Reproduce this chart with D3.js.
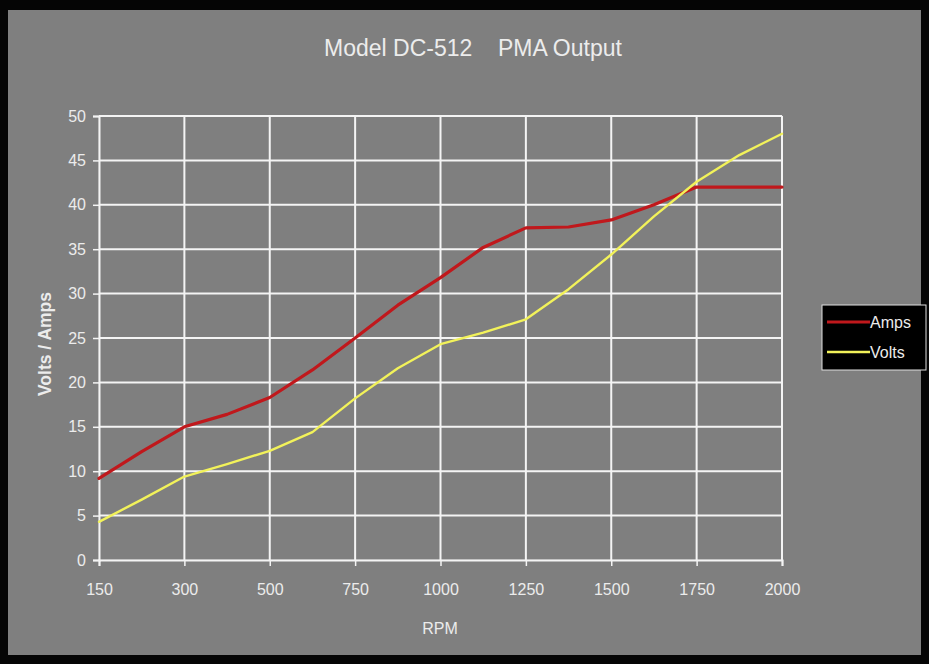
<!DOCTYPE html>
<html>
<head>
<meta charset="utf-8">
<script src="https://cdn.jsdelivr.net/npm/d3@7"></script>
<style>
  html, body { margin: 0; padding: 0; background: #000; }
  svg { display: block; }
  text { font-family: "Liberation Sans", Arial, sans-serif; fill: #ececec; }
</style>
</head>
<body>
<svg id="chart" width="929" height="664"></svg>
<script>
// RPM categories (every second one carries a tick label)
const rpm = ["150", "225", "300", "400", "500", "625", "750", "875", "1000",
             "1125", "1250", "1375", "1500", "1625", "1750", "1875", "2000"];
const tickLabels = ["150", "300", "500", "750", "1000", "1250", "1500", "1750", "2000"];
const amps  = [9.2, 12.2, 15.0, 16.4, 18.3, 21.4, 25.0, 28.7, 31.8, 35.2, 37.4, 37.5, 38.3, 40.0, 42.0, 42.0, 42.0];
const volts = [4.3, 6.8, 9.4, 10.8, 12.3, 14.4, 18.2, 21.6, 24.3, 25.6, 27.1, 30.5, 34.4, 38.7, 42.6, 45.6, 48.0];
const yTicks = [0, 5, 10, 15, 20, 25, 30, 35, 40, 45, 50];

const series = [
  { name: "Amps",  values: amps,  color: "#c0181c", width: 3.2 },
  { name: "Volts", values: volts, color: "#f2f25a", width: 2.4 }
];

const svg = d3.select("#chart");
const W = 929, H = 664;
const plot = { left: 99, right: 782, top: 116, bottom: 560 };

// outer frame and chart background
svg.append("rect").attr("width", W).attr("height", H).attr("fill", "#050505");
svg.append("rect").attr("x", 8).attr("y", 10).attr("width", 913).attr("height", 645)
  .attr("fill", "#7f7f7f");

const x = d3.scalePoint().domain(rpm).range([plot.left, plot.right]);
const y = d3.scaleLinear().domain([0, 50]).range([plot.bottom, plot.top]);

// plot area border
svg.append("rect")
  .attr("x", plot.left).attr("y", plot.top)
  .attr("width", plot.right - plot.left).attr("height", plot.bottom - plot.top)
  .attr("fill", "#7f7f7f").attr("stroke", "#a8a8a8").attr("stroke-width", 1);

// horizontal gridlines
svg.append("g").selectAll("line").data(yTicks.filter(d => d > 0)).join("line")
  .attr("x1", plot.left).attr("x2", plot.right)
  .attr("y1", d => y(d)).attr("y2", d => y(d))
  .attr("stroke", "#f4f4f4").attr("stroke-width", 2);

// vertical gridlines
svg.append("g").selectAll("line").data(tickLabels.slice(1)).join("line")
  .attr("x1", d => x(d)).attr("x2", d => x(d))
  .attr("y1", plot.top).attr("y2", plot.bottom)
  .attr("stroke", "#f4f4f4").attr("stroke-width", 2);

// y axis
const yAxis = svg.append("g")
  .attr("transform", `translate(${plot.left},0)`)
  .call(d3.axisLeft(y).tickValues(yTicks).tickSize(6).tickPadding(7));
// x axis
const xAxis = svg.append("g")
  .attr("transform", `translate(0,${plot.bottom})`)
  .call(d3.axisBottom(x).tickValues(tickLabels).tickSize(6).tickPadding(18));

[yAxis, xAxis].forEach(g => {
  g.select(".domain").attr("stroke", "#f4f4f4").attr("stroke-width", 2);
  g.selectAll(".tick line").attr("stroke", "#f4f4f4").attr("stroke-width", 1.5);
  g.selectAll(".tick text").attr("fill", "#ececec")
    .style("font-family", "'Liberation Sans', Arial, sans-serif")
    .style("font-size", "16px");
});

// series lines
const line = d3.line()
  .x((d, i) => x(rpm[i]))
  .y(d => y(d));

svg.append("g").selectAll("path").data(series).join("path")
  .attr("d", d => line(d.values))
  .attr("fill", "none")
  .attr("stroke", d => d.color)
  .attr("stroke-width", d => d.width)
  .attr("stroke-linejoin", "round")
  .attr("stroke-linecap", "round");

// titles
svg.append("text")
  .attr("x", 473).attr("y", 56)
  .attr("text-anchor", "middle")
  .style("font-size", "23px")
  .style("white-space", "pre")
  .text("Model DC-512    PMA Output");

svg.append("text")
  .attr("x", 440).attr("y", 634)
  .attr("text-anchor", "middle")
  .style("font-size", "16px")
  .text("RPM");

svg.append("text")
  .attr("transform", "translate(51,344) rotate(-90)")
  .attr("text-anchor", "middle")
  .style("font-size", "17.5px")
  .style("font-weight", "bold")
  .text("Volts / Amps");

// legend
const legend = svg.append("g").attr("transform", "translate(822,305)");
legend.append("rect")
  .attr("width", 104).attr("height", 65)
  .attr("fill", "#000").attr("stroke", "#e0e0e0").attr("stroke-width", 1);
const items = legend.selectAll("g.item").data(series).join("g")
  .attr("class", "item")
  .attr("transform", (d, i) => `translate(0,${17 + i * 30})`);
items.append("line")
  .attr("x1", 5).attr("x2", 48).attr("y1", 0).attr("y2", 0)
  .attr("stroke", d => d.color).attr("stroke-width", d => d.width);
items.append("text")
  .attr("x", 48).attr("y", 6)
  .style("font-size", "16px")
  .text(d => d.name);
</script>
</body>
</html>
